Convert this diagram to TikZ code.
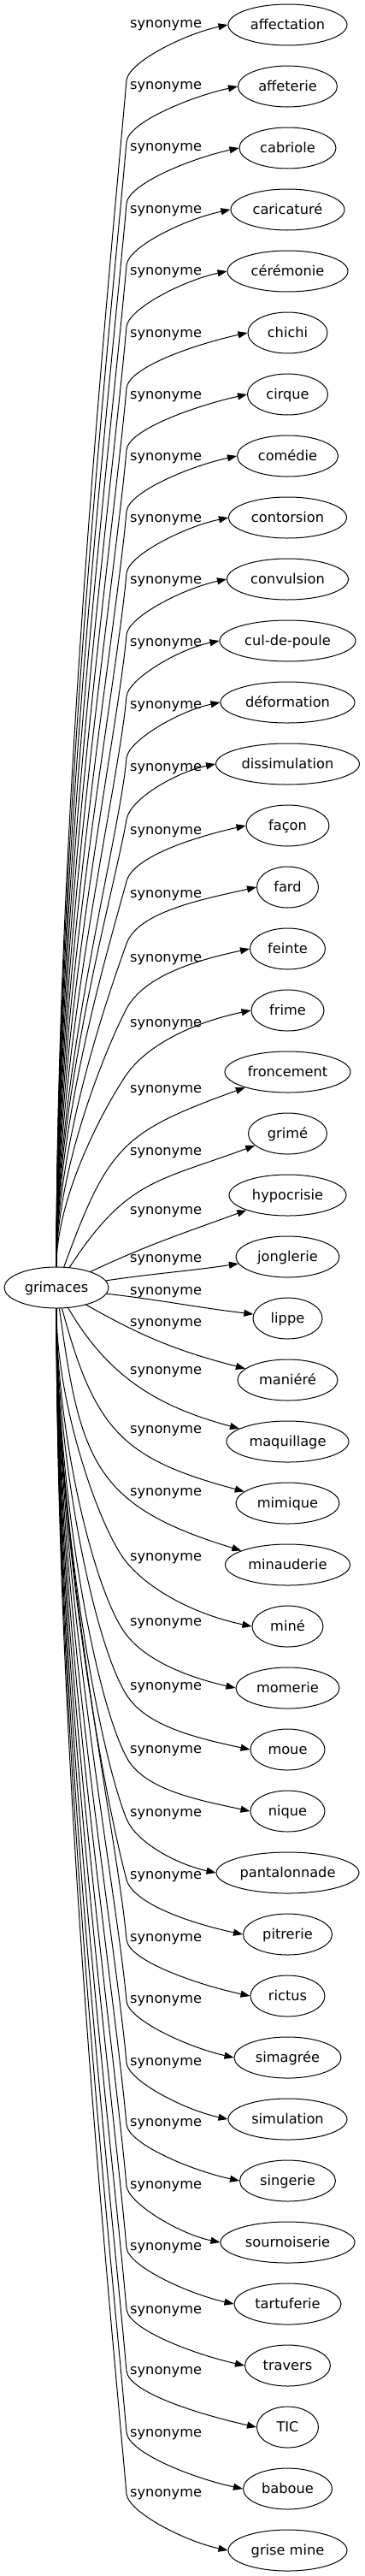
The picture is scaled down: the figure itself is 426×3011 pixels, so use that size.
\documentclass[tikz,border=0pt]{standalone}
\usepackage{fontspec}
\setmainfont{DejaVu Sans}
\usetikzlibrary{arrows.meta,shapes.geometric}

\begin{document}
\begin{tikzpicture}[x=1pt,y=1pt]
    \tikzstyle{word} = [shape=ellipse,draw,line width=1pt,inner sep=0pt,minimum height=48pt,font=\fontsize{16.2}{19}\selectfont,text height=12.3pt,text depth=1pt]
    \tikzstyle{syn} = [anchor=west,inner sep=0pt,font=\fontsize{16.2}{19}\selectfont]
    \tikzstyle{link} = [line width=1pt,-{Triangle[length=11pt,width=8pt]}]
    \useasboundingbox (0,0) rectangle (426,-3011);
    \node [word,minimum width=122] (g) at (66,-1505) {grimaces};
    \node [word,minimum width=139] (w1) at (336.5,-29) {affectation};
    \node [word,minimum width=116] (w2) at (336.5,-101) {affeterie};
    \node [word,minimum width=113] (w3) at (336.5,-173) {cabriole};
    \node [word,minimum width=133] (w4) at (336.5,-245) {caricaturé};
    \node [word,minimum width=141] (w5) at (336.5,-317) {cérémonie};
    \node [word,minimum width=93] (w6) at (336.5,-389) {chichi};
    \node [word,minimum width=94] (w7) at (336.5,-461) {cirque};
    \node [word,minimum width=118] (w8) at (336.5,-533) {comédie};
    \node [word,minimum width=138] (w9) at (336.5,-605) {contorsion};
    \node [word,minimum width=142] (w10) at (336.5,-677) {convulsion};
    \node [word,minimum width=159] (w11) at (336.5,-749) {cul-de-poule};
    \node [word,minimum width=157] (w12) at (336.5,-821) {déformation};
    \node [word,minimum width=168] (w13) at (336.5,-893) {dissimulation};
    \node [word,minimum width=97] (w14) at (336.5,-965) {façon};
    \node [word,minimum width=72] (w15) at (336.5,-1037) {fard};
    \node [word,minimum width=88] (w16) at (336.5,-1109) {feinte};
    \node [word,minimum width=85] (w17) at (336.5,-1181) {frime};
    \node [word,minimum width=147] (w18) at (336.5,-1253) {froncement};
    \node [word,minimum width=92] (w19) at (336.5,-1325) {grimé};
    \node [word,minimum width=137] (w20) at (336.5,-1397) {hypocrisie};
    \node [word,minimum width=121] (w21) at (336.5,-1469) {jonglerie};
    \node [word,minimum width=81] (w22) at (336.5,-1541) {lippe};
    \node [word,minimum width=117] (w23) at (336.5,-1613) {maniéré};
    \node [word,minimum width=143] (w24) at (336.5,-1685) {maquillage};
    \node [word,minimum width=121] (w25) at (336.5,-1757) {mimique};
    \node [word,minimum width=146] (w26) at (336.5,-1829) {minauderie};
    \node [word,minimum width=83] (w27) at (336.5,-1901) {miné};
    \node [word,minimum width=121] (w28) at (336.5,-1973) {momerie};
    \node [word,minimum width=87] (w29) at (336.5,-2045) {moue};
    \node [word,minimum width=87] (w30) at (336.5,-2117) {nique};
    \node [word,minimum width=167] (w31) at (336.5,-2189) {pantalonnade};
    \node [word,minimum width=104] (w32) at (336.5,-2261) {pitrerie};
    \node [word,minimum width=87] (w33) at (336.5,-2333) {rictus};
    \node [word,minimum width=125] (w34) at (336.5,-2405) {simagrée};
    \node [word,minimum width=139] (w35) at (336.5,-2477) {simulation};
    \node [word,minimum width=112] (w36) at (336.5,-2549) {singerie};
    \node [word,minimum width=157] (w37) at (336.5,-2621) {sournoiserie};
    \node [word,minimum width=125] (w38) at (336.5,-2693) {tartuferie};
    \node [word,minimum width=100] (w39) at (336.5,-2765) {travers};
    \node [word,minimum width=72] (w40) at (336.5,-2837) {TIC};
    \node [word,minimum width=104] (w41) at (336.5,-2909) {baboue};
    \node [word,minimum width=139] (w42) at (336.5,-2981) {grise mine};
    % labels
    \node [syn] (s1) at (152,-30) {synonyme};
    \node [syn] (s2) at (152,-102) {synonyme};
    \node [syn] (s3) at (152,-174) {synonyme};
    \node [syn] (s4) at (152,-247) {synonyme};
    \node [syn] (s5) at (152,-319) {synonyme};
    \node [syn] (s6) at (152,-392) {synonyme};
    \node [syn] (s7) at (152,-464) {synonyme};
    \node [syn] (s8) at (152,-536) {synonyme};
    \node [syn] (s9) at (152,-608) {synonyme};
    \node [syn] (s10) at (152,-680) {synonyme};
    \node [syn] (s11) at (152,-753) {synonyme};
    \node [syn] (s12) at (152,-826) {synonyme};
    \node [syn] (s13) at (152,-899) {synonyme};
    \node [syn] (s14) at (152,-973) {synonyme};
    \node [syn] (s15) at (152,-1047) {synonyme};
    \node [syn] (s16) at (152,-1122) {synonyme};
    \node [syn] (s17) at (152,-1198) {synonyme};
    \node [syn] (s18) at (152,-1275) {synonyme};
    \node [syn] (s19) at (152,-1348) {synonyme};
    \node [syn] (s20) at (152,-1417) {synonyme};
    \node [syn] (s21) at (152,-1473) {synonyme};
    \node [syn] (s22) at (152,-1511) {synonyme};
    \node [syn] (s23) at (152,-1548) {synonyme};
    \node [syn] (s24) at (152,-1604) {synonyme};
    \node [syn] (s25) at (152,-1673) {synonyme};
    \node [syn] (s26) at (152,-1746) {synonyme};
    \node [syn] (s27) at (152,-1822) {synonyme};
    \node [syn] (s28) at (152,-1898) {synonyme};
    \node [syn] (s29) at (152,-1973) {synonyme};
    \node [syn] (s30) at (152,-2047) {synonyme};
    \node [syn] (s31) at (152,-2121) {synonyme};
    \node [syn] (s32) at (152,-2194) {synonyme};
    \node [syn] (s33) at (152,-2267) {synonyme};
    \node [syn] (s34) at (152,-2339) {synonyme};
    \node [syn] (s35) at (152,-2412) {synonyme};
    \node [syn] (s36) at (152,-2483) {synonyme};
    \node [syn] (s37) at (152,-2556) {synonyme};
    \node [syn] (s38) at (152,-2628) {synonyme};
    \node [syn] (s39) at (152,-2702) {synonyme};
    \node [syn] (s40) at (152,-2773) {synonyme};
    \node [syn] (s41) at (152,-2846) {synonyme};
    \node [syn] (s42) at (152,-2916) {synonyme};
    % bends
    \coordinate (v1) at (148,-94);
    \coordinate (v2) at (148,-166);
    \coordinate (v3) at (148,-238);
    \coordinate (v4) at (148,-310);
    \coordinate (v5) at (148,-382);
    \coordinate (v6) at (148,-454);
    \coordinate (v7) at (148,-526);
    \coordinate (v8) at (148,-598);
    \coordinate (v9) at (148,-670);
    \coordinate (v10) at (148,-742);
    \coordinate (v11) at (148,-814);
    \coordinate (v12) at (148,-886);
    \coordinate (v13) at (148,-958);
    \coordinate (v14) at (148,-1030);
    \coordinate (v15) at (148,-1103);
    \coordinate (v16) at (148,-1179);
    \coordinate (v17) at (148,-1256);
    \coordinate (v27) at (148,-1826);
    \coordinate (v28) at (148,-1911);
    \coordinate (v29) at (148,-1981);
    \coordinate (v30) at (148,-2054);
    \coordinate (v31) at (148,-2126);
    \coordinate (v32) at (148,-2197);
    \coordinate (v33) at (148,-2267);
    \coordinate (v34) at (148,-2339);
    \coordinate (v35) at (148,-2411);
    \coordinate (v36) at (148,-2483);
    \coordinate (v37) at (148,-2555);
    \coordinate (v38) at (148,-2627);
    \coordinate (v39) at (148,-2699);
    \coordinate (v40) at (148,-2771);
    \coordinate (v41) at (148,-2843);
    \coordinate (v42) at (148,-2915);
    % upper edges
    \draw [link] (g.north) .. controls (66,-940) and (129,-311) .. (v1) .. controls (150,-73) and (215,-40) .. (w1.west);
    \draw [link] (g.north) .. controls (66,-968) and (130,-371) .. (v2) .. controls (150,-143) and (223,-113) .. (w2.west);
    \draw [link] (g.north) .. controls (66,-996) and (131,-432) .. (v3) .. controls (150,-215) and (224,-185) .. (w3.west);
    \draw [link] (g.north) .. controls (66,-1024) and (132,-493) .. (v4) .. controls (150,-288) and (217,-256) .. (w4.west);
    \draw [link] (g.north) .. controls (66,-1052) and (133,-553) .. (v5) .. controls (150,-361) and (214,-328) .. (w5.west);
    \draw [link] (g.north) .. controls (66,-1080) and (134,-614) .. (v6) .. controls (150,-429) and (230,-402) .. (w6.west);
    \draw [link] (g.north) .. controls (66,-1109) and (135,-675) .. (v7) .. controls (150,-502) and (230,-474) .. (w7.west);
    \draw [link] (g.north) .. controls (66,-1137) and (136,-736) .. (v8) .. controls (150,-575) and (222,-545) .. (w8.west);
    \draw [link] (g.north) .. controls (66,-1165) and (137,-797) .. (v9) .. controls (150,-649) and (215,-616) .. (w9.west);
    \draw [link] (g.north) .. controls (66,-1193) and (138,-857) .. (v10) .. controls (150,-721) and (214,-688) .. (w10.west);
    \draw [link] (g.north) .. controls (66,-1221) and (139,-918) .. (v11) .. controls (150,-794) and (208,-759) .. (w11.west);
    \draw [link] (g.north) .. controls (66,-1249) and (140,-979) .. (v12) .. controls (150,-866) and (209,-831) .. (w12.west);
    \draw [link] (g.north) .. controls (66,-1277) and (134,-1039) .. (v13) .. controls (152,-934) and (205,-903) .. (w13.west);
    \draw [link] (g.north) .. controls (66,-1305) and (130,-1098) .. (v14) .. controls (156,-1001) and (229,-978) .. (w14.west);
    \draw [link] (g.north) .. controls (66,-1334) and (128,-1159) .. (v15) .. controls (161,-1066) and (237,-1051) .. (w15.west);
    \draw [link] (g.north) .. controls (66,-1363) and (126,-1221) .. (v16) .. controls (169,-1140) and (231,-1122) .. (w16.west);
    \draw [link] (g.north) .. controls (66,-1393) and (128,-1285) .. (v17) .. controls (174,-1219) and (231,-1194) .. (w17.west);
    % middle edges
    \draw [link] (g.70) .. controls (127,-1338) and (144,-1323) .. (w18.200);
    \draw [link] (g.57) .. controls (148,-1379) and (184,-1381) .. (w19.200);
    \draw [link] (g.25) .. controls (175,-1454) and (216,-1441) .. (w20.200);
    \draw [link] (g.8) .. controls (184,-1488) and (219,-1486) .. (w21.188);
    \draw [link] (g.-7) .. controls (192,-1520) and (229,-1528) .. (w22.173);
    \draw [link] (g.-30) .. controls (169,-1564) and (211,-1580) .. (w23.165);
    \draw [link] (g.-60) .. controls (128,-1612) and (188,-1645) .. (w24.165);
    \draw [link] (g.-75) .. controls (111,-1672) and (143,-1705) .. (w25.165);
    \draw [link] (g.-82) .. controls (94,-1708) and (110,-1760) .. (w26.163);
    % lower edges
    \draw [link] (g.south) .. controls (66,-1645) and (118,-1790) .. (v27) .. controls (177,-1861) and (232,-1888) .. (w27.west);
    \draw [link] (g.south) .. controls (66,-1678) and (111,-1864) .. (v28) .. controls (172,-1942) and (222,-1961) .. (w28.west);
    \draw [link] (g.south) .. controls (66,-1705) and (110,-1921) .. (v29) .. controls (171,-2018) and (232,-2032) .. (w29.west);
    \draw [link] (g.south) .. controls (66,-1734) and (109,-1981) .. (v30) .. controls (168,-2092) and (232,-2104) .. (w30.west);
    \draw [link] (g.south) .. controls (66,-1762) and (113,-2039) .. (v31) .. controls (159,-2153) and (206,-2179) .. (w31.west);
    \draw [link] (g.south) .. controls (66,-1790) and (121,-2096) .. (v32) .. controls (156,-2226) and (227,-2249) .. (w32.west);
    \draw [link] (g.south) .. controls (66,-1817) and (138,-2152) .. (v33) .. controls (150,-2292) and (232,-2320) .. (w33.west);
    \draw [link] (g.south) .. controls (66,-1845) and (137,-2212) .. (v34) .. controls (150,-2361) and (220,-2393) .. (w34.west);
    \draw [link] (g.south) .. controls (66,-1873) and (136,-2273) .. (v35) .. controls (150,-2432) and (215,-2466) .. (w35.west);
    \draw [link] (g.south) .. controls (66,-1901) and (135,-2334) .. (v36) .. controls (150,-2506) and (224,-2537) .. (w36.west);
    \draw [link] (g.south) .. controls (66,-1929) and (134,-2395) .. (v37) .. controls (150,-2575) and (209,-2611) .. (w37.west);
    \draw [link] (g.south) .. controls (66,-1957) and (133,-2455) .. (v38) .. controls (150,-2649) and (220,-2681) .. (w38.west);
    \draw [link] (g.south) .. controls (66,-1985) and (132,-2516) .. (v39) .. controls (150,-2723) and (228,-2752) .. (w39.west);
    \draw [link] (g.south) .. controls (66,-2013) and (131,-2577) .. (v40) .. controls (150,-2797) and (237,-2823) .. (w40.west);
    \draw [link] (g.south) .. controls (66,-2041) and (130,-2637) .. (v41) .. controls (150,-2867) and (227,-2897) .. (w41.west);
    \draw [link] (g.south) .. controls (66,-2070) and (129,-2698) .. (v42) .. controls (150,-2936) and (215,-2970) .. (w42.west);
\end{tikzpicture}
\end{document}
